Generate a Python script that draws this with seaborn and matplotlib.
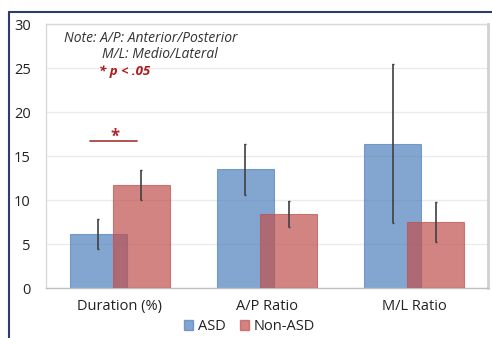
import matplotlib
matplotlib.use("Agg")
import matplotlib.pyplot as plt
from matplotlib.lines import Line2D
import seaborn as sns
import pandas as pd
import numpy as np

categories = ["Duration (%)", "A/P Ratio", "M/L Ratio"]
groups = ["ASD", "Non-ASD"]
asd_mean = [6.1, 13.5, 16.4]
asd_err = [1.7, 2.9, 9.0]
nonasd_mean = [11.7, 8.4, 7.5]
nonasd_err = [1.7, 1.5, 2.3]

colors = {"ASD": "#4F81BD", "Non-ASD": "#C0504D"}

df = pd.DataFrame({
    "metric": categories * 2,
    "group": ["ASD"] * 3 + ["Non-ASD"] * 3,
    "value": asd_mean + nonasd_mean,
})

sns.set_theme(style="white")
plt.rcParams["font.family"] = ["Open Sans", "DejaVu Sans"]

fig = plt.figure(figsize=(4.92, 3.38), dpi=100)
ax = fig.add_axes([46 / 492, 1 - 288 / 338, 442 / 492, 264 / 338])

sns.barplot(data=df, x="metric", y="value", hue="group", order=categories,
            hue_order=groups, palette=colors, alpha=0.7, width=0.585,
            errorbar=None, ax=ax, saturation=1)

bar_w = 0.387
offset = 0.146
for gi, cont in enumerate(ax.containers):
    sign = -1 if gi == 0 else 1
    for ci, p in enumerate(cont.patches):
        p.set_width(bar_w)
        p.set_x(ci + sign * offset - bar_w / 2)
        p.set_edgecolor(colors[groups[gi]])
        p.set_linewidth(0.8)
        p.set_zorder(2 + gi)

x = np.arange(len(categories))
ax.errorbar(x - offset, asd_mean, yerr=asd_err, fmt="none", ecolor="#404040",
            elinewidth=1.2, capsize=1, capthick=1.0, zorder=5)
ax.errorbar(x + offset, nonasd_mean, yerr=nonasd_err, fmt="none", ecolor="#404040",
            elinewidth=1.2, capsize=1, capthick=1.0, zorder=5)

ax.set_xlim(-0.5, 2.5)
ax.set_ylim(0, 30)
ax.set_yticks(range(0, 31, 5))
ax.yaxis.grid(True, color="#EBEBEB", linewidth=1)
ax.set_axisbelow(True)
ax.set_xlabel("")
ax.set_ylabel("")
ax.tick_params(axis="y", length=0, pad=11, labelsize=10.5, labelcolor="#222222")
ax.tick_params(axis="x", length=0, pad=8, labelsize=10.5, labelcolor="#222222")

for s in ["top", "left"]:
    ax.spines[s].set_color("#D9D9D9")
    ax.spines[s].set_linewidth(1)
ax.spines["right"].set_color("#D0D0D0")
ax.spines["right"].set_linewidth(2)
ax.spines["bottom"].set_color("#BFBFBF")
ax.spines["bottom"].set_linewidth(1)

# annotations
ax.text(-0.378, 28.4, "Note: A/P: Anterior/Posterior", fontsize=10, style="italic",
        color="#333333", va="center", ha="left")
ax.text(-0.12, 26.5, "M/L: Medio/Lateral", fontsize=10, style="italic",
        color="#333333", va="center", ha="left")
ax.text(-0.14, 24.6, "* p < .05", fontsize=9.5, style="italic", weight="bold",
        color="#A81C1C", va="center", ha="left")
ax.plot([-0.2, 0.118], [16.7, 16.7], color="#A84848", lw=1.3, zorder=6)
ax.text(-0.035, 16.2, "*", fontsize=12, weight="bold", color="#B02828",
        ha="center", va="bottom")

# legend
leg_handles = [plt.Rectangle((0, 0), 1, 1, facecolor=colors[g], alpha=0.7,
                             edgecolor=colors[g]) for g in groups]
if ax.get_legend() is not None:
    ax.get_legend().remove()
ax.legend(leg_handles, groups, loc="center", bbox_to_anchor=(0.46, -0.147),
          ncol=2, frameon=False, fontsize=10.5, handlelength=0.65, handleheight=0.65,
          handletextpad=0.3, columnspacing=1.0, labelcolor="#222222")

# outer navy border
fig.add_artist(Line2D([9 / 492, 1], [1 - 12 / 338, 1 - 12 / 338],
                      transform=fig.transFigure, color="#2F3B73", lw=1.5))
fig.add_artist(Line2D([9 / 492, 9 / 492], [0, 1 - 12 / 338],
                      transform=fig.transFigure, color="#2F3B73", lw=1.5))

fig.savefig("out.png", dpi=100)
